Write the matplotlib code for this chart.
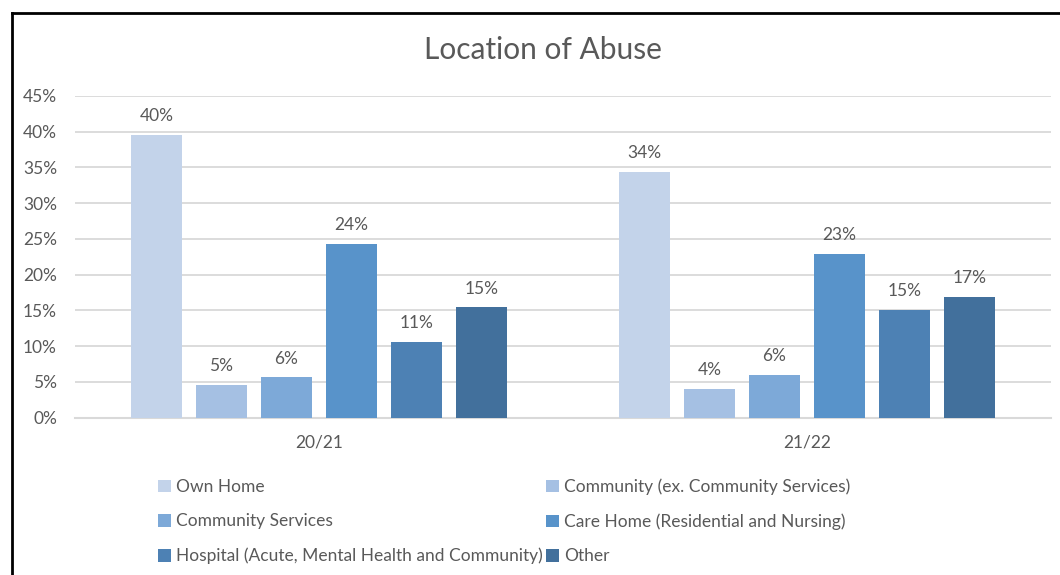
import matplotlib.pyplot as plt
from matplotlib.lines import Line2D
from matplotlib.ticker import PercentFormatter
import numpy as np

plt.rcParams['font.family'] = ['Lato', 'DejaVu Sans']

# data
years = ['20/21', '21/22']
locations = ['Own Home',
             'Community (ex. Community Services)',
             'Community Services',
             'Care Home (Residential and Nursing)',
             'Hospital (Acute, Mental Health and Community)',
             'Other']
own_home = [0.396, 0.344]
community_ex = [0.046, 0.040]
community_services = [0.056, 0.059]
care_home = [0.243, 0.229]
hospital = [0.106, 0.150]
other = [0.154, 0.169]
colors = ['#C3D3EA', '#A5C0E3', '#7DA9D8', '#5893CA', '#4D81B4', '#42709C']

series = [own_home, community_ex, community_services, care_home, hospital, other]
txt = '#595959'
grid = '#D9D9D9'
fs = 12.5

fig = plt.figure(figsize=(10.6, 5.75), dpi=100)
ax = fig.add_axes([75/1060, 1-417.5/575, (1051-75)/1060, (417.5-96)/575])

x = np.arange(len(years))
step = 0.1332
width = 0.1045
handles = []
for i, vals in enumerate(series):
    pos = x + (i - 2.5)*step
    bars = ax.bar(pos, vals, width, color=colors[i], label=locations[i], zorder=3)
    handles.append(bars)
    for b, v in zip(bars, vals):
        ax.annotate(f'{v:.0%}', (b.get_x() + b.get_width()/2, v),
                    xytext=(0, 10), textcoords='offset points',
                    ha='center', va='baseline', fontsize=fs, color=txt)

ax.set_xlim(-0.5, 1.5)
ax.set_ylim(0, 0.45)
ax.set_yticks(np.arange(0, 0.46, 0.05))
ax.yaxis.set_major_formatter(PercentFormatter(1.0, decimals=0))
ax.set_xticks(x)
ax.set_xticklabels(years)
ax.tick_params(axis='both', length=0, labelsize=fs, labelcolor=txt)
ax.tick_params(axis='y', pad=13)
ax.tick_params(axis='x', pad=12)
ax.grid(axis='y', color=grid, linewidth=1.3, zorder=0)
for s in ['top', 'right', 'left']:
    ax.spines[s].set_visible(False)
ax.spines['bottom'].set_color(grid)
ax.spines['bottom'].set_linewidth(1.5)

fig.text(543/1060, 1-50/575, 'Location of Abuse', ha='center', va='center',
         fontsize=21.5, color=txt)

# legend fills row by row like the original
order = [0, 2, 4, 1, 3, 5]
fig.legend([handles[i] for i in order], [locations[i] for i in order],
           loc='upper left', bbox_to_anchor=(142/1060, 1-463/575), ncol=2,
           frameon=False, fontsize=fs, labelcolor=txt,
           handlelength=0.75, handleheight=0.75, handletextpad=0.3,
           columnspacing=0.2, labelspacing=1.05)

# chart border (cropped on right and bottom)
fig.add_artist(Line2D([11.5/1060, 11.5/1060], [0, 1-12.5/575], color='black', lw=2))
fig.add_artist(Line2D([11.5/1060, 1], [1-12.5/575, 1-12.5/575], color='black', lw=2))

fig.savefig('out.png', dpi=100)
